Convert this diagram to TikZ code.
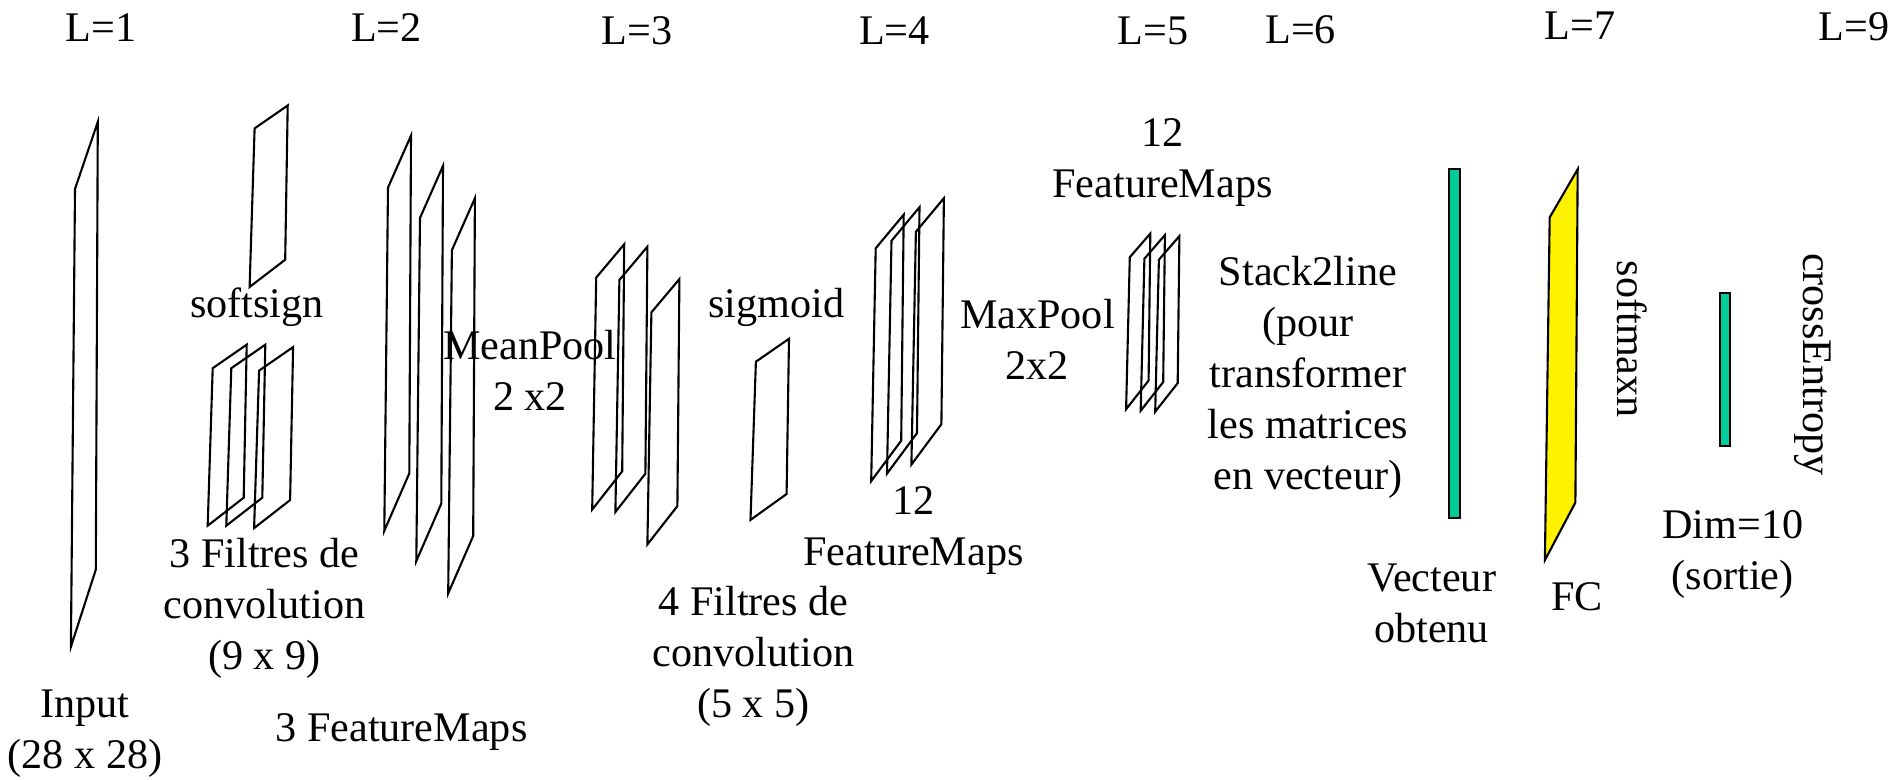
\documentclass[tikz,border=0pt]{standalone}
\usepackage{fontspec}
\setmainfont{Liberation Serif}
\usepackage{xcolor}
\usepackage{tikz}
\definecolor{vecgreen}{RGB}{0,204,153}
\tikzset{Map/.style={draw,line width=0.6pt,line join=miter},
  Vec/.style={draw,line width=0.6pt,fill=vecgreen},
  Txt/.style={align=center,inner sep=0pt}}

\begin{document}
\begin{tikzpicture}[font=\fontsize{12pt}{14.5pt}\selectfont]
    \useasboundingbox (0,0) rectangle (18.95,-7.80);
    \node[Txt] (L1) at (1.01,-0.28) {L=1};
    \node[Txt] (L2) at (3.865,-0.28) {L=2};
    \node[Txt] (L3) at (6.37,-0.305) {L=3};
    \node[Txt] (L4) at (8.944,-0.305) {L=4};
    \node[Txt] (L5) at (11.53,-0.305) {L=5};
    \node[Txt] (L6) at (13.006,-0.30) {L=6};
    \node[Txt] (L7) at (15.80,-0.26) {L=7};
    \node[Txt] (L9) at (18.54,-0.27) {L=9};
    \draw[Map] (0.75,-1.89) -- (0.978,-1.219) -- (0.958,-5.697) -- (0.709,-6.468) -- cycle;
    \draw[Map] (2.546,-1.284) -- (2.877,-1.055) -- (2.852,-2.597) -- (2.496,-2.87) -- cycle;
    \foreach \x/\y in {2.127/-3.682,2.313/-3.682,2.591/-3.706}
      \draw[Map] (\x,\y) -- ++(0.34,0.235) -- ++(-0.03,-1.53) -- ++(-0.36,-0.28) -- cycle;
    \foreach \x/\y in {3.88/-1.876,4.20/-2.179,4.519/-2.502}
      \draw[Map] (\x,\y) -- ++(0.23,0.52) -- ++(-0.017,-3.378) -- ++(-0.25,-0.574) -- cycle;
    \foreach \x/\y in {5.962/-2.776,6.194/-2.80,6.514/-3.124}
      \draw[Map] (\x,\y) -- ++(0.28,0.333) -- ++(-0.02,-2.27) -- ++(-0.30,-0.383) -- cycle;
    \draw[Map] (7.559,-3.617) -- (7.89,-3.388) -- (7.866,-4.94) -- (7.505,-5.199) -- cycle;
    \foreach \x/\y in {8.757/-2.483,8.915/-2.408,9.159/-2.318}
      \draw[Map] (\x,\y) -- ++(0.28,0.336) -- ++(-0.025,-2.26) -- ++(-0.30,-0.404) -- cycle;
    \foreach \x/\y in {11.298/-2.572,11.444/-2.587,11.589/-2.597}
      \draw[Map] (\x,\y) -- ++(0.205,0.236) -- ++(-0.017,-1.47) -- ++(-0.225,-0.286) -- cycle;
    \draw[Vec] (14.49,-1.692) rectangle (14.60,-5.179);
    \draw[Map,fill=yellow] (15.497,-2.174) -- (15.777,-1.692) -- (15.754,-5.025) -- (15.449,-5.602) -- cycle;
    \draw[Vec] (17.20,-2.93) rectangle (17.301,-4.458);
    \node[Txt] (In) at (0.85,-7.34) {Input\\(28 x 28)};
    \node[Txt] (Sg) at (2.57,-3.075) {softsign};
    \node[Txt] (F1) at (2.645,-6.08) {3 Filtres de\\convolution\\(9 x 9)};
    \node[Txt] (FM2) at (4.015,-7.32) {3 FeatureMaps};
    \node[Txt] (MeP) at (5.30,-3.70) {MeanPool\\2 x2};
    \node[Txt] (Sm) at (7.765,-3.07) {sigmoid};
    \node[Txt] (F2) at (7.535,-6.56) {4 Filtres de\\convolution\\(5 x 5)};
    \node[Txt] (FM4) at (9.135,-5.31) {12\\FeatureMaps};
    \node[Txt] (MxP) at (10.374,-3.39) {MaxPool\\2x2};
    \node[Txt] (FM5) at (11.625,-1.627) {12\\FeatureMaps};
    \node[Txt] (St) at (13.08,-3.776) {Stack2line\\(pour\\transformer\\les matrices\\en vecteur)};
    \node[Txt] (Vo) at (14.316,-6.03) {Vecteur\\obtenu};
    \node[Txt] (FC) at (15.768,-5.97) {FC};
    \node[Txt,rotate=-90] (Sx) at (16.322,-3.393) {softmaxn};
    \node[Txt] (Out) at (17.328,-5.547) {Dim=10\\(sortie)};
    \node[Txt,rotate=-90] (CE) at (18.13,-3.643) {crossEntropy};
  \end{tikzpicture}
\end{document}
